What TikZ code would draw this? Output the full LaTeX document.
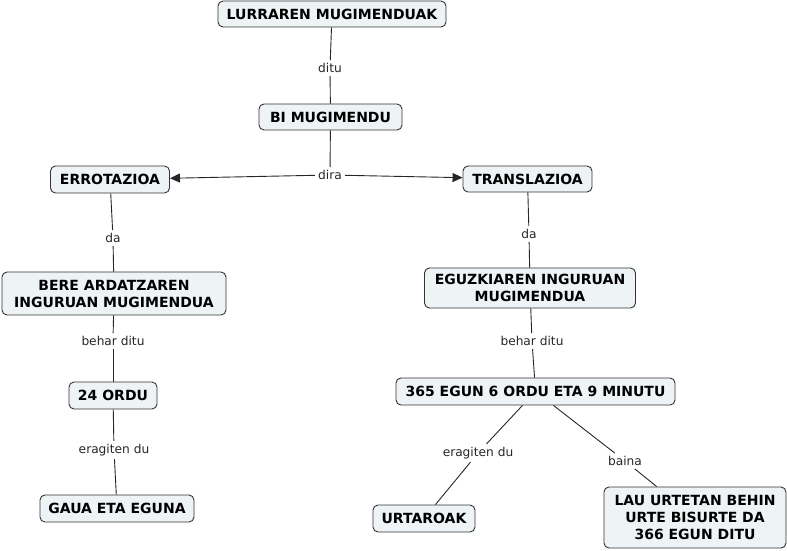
\documentclass[tikz,border=0pt]{standalone}
\usepackage{fontspec}
\setmainfont{DejaVu Sans}
\usetikzlibrary{arrows.meta}
\definecolor{boxfill}{HTML}{EEF3F5}
\definecolor{boxline}{HTML}{333333}
\tikzset{
  concept/.style={draw=boxline, fill=boxfill, rounded corners=5pt, line width=0.9pt,
    font=\bfseries\fontsize{14}{17}\selectfont, align=center, inner sep=0pt},
  lbl/.style={font=\fontsize{12.2}{14}\selectfont, inner sep=3pt, text=black!85},
  link/.style={draw=black!85, line width=0.9pt},
  arr/.style={link, -{Triangle[length=10pt,width=9pt]}}
}
\begin{document}
\begin{tikzpicture}[x=1pt,y=-1pt]
\useasboundingbox (0,0) rectangle (787,551);
\node[concept, minimum width=228pt, minimum height=26pt] (lur) at (332,14) {LURRAREN MUGIMENDUAK};
\node[concept, minimum width=143pt, minimum height=26pt] (bi) at (330.5,117) {BI MUGIMENDU};
\node[concept, minimum width=119pt, minimum height=27pt] (err) at (110,179.5) {ERROTAZIOA};
\node[concept, minimum width=129pt, minimum height=26pt] (tra) at (527.5,179) {TRANSLAZIOA};
\node[concept, minimum width=224pt, minimum height=43pt] (bere) at (114,293.5) {BERE ARDATZAREN\\INGURUAN MUGIMENDUA};
\node[concept, minimum width=211pt, minimum height=40pt] (eguz) at (530,288) {EGUZKIAREN INGURUAN\\MUGIMENDUA};
\node[concept, minimum width=88pt, minimum height=27pt] (ord) at (113,395.5) {24 ORDU};
\node[concept, minimum width=279pt, minimum height=27pt] (egun) at (535.5,391.5) {365 EGUN 6 ORDU ETA 9 MINUTU};
\node[concept, minimum width=154pt, minimum height=27pt] (gaua) at (117,508.5) {GAUA ETA EGUNA};
\node[concept, minimum width=102pt, minimum height=27pt] (urt) at (424,518.5) {URTAROAK};
\node[concept, minimum width=182pt, minimum height=61pt] (lau) at (695,517.5) {LAU URTETAN BEHIN\\URTE BISURTE DA\\366 EGUN DITU};

\node[lbl] (l1) at (330,68) {ditu};
\node[lbl] (l2) at (330,175) {dira};
\node[lbl] (l3) at (113,238) {da};
\node[lbl] (l4) at (529,234) {da};
\node[lbl] (l5) at (113,341) {behar ditu};
\node[lbl] (l6) at (532,341) {behar ditu};
\node[lbl] (l7) at (114,450) {eragiten du};
\node[lbl] (l8) at (478,453) {eragiten du};
\node[lbl] (l9) at (625,461) {baina};

\draw[link] (lur) -- (l1);
\draw[link] (l1) -- (bi);
\draw[link] (bi) -- (l2);
\draw[arr] (l2) -- (err);
\draw[arr] (l2) -- (tra);
\draw[link] (err) -- (l3);
\draw[link] (l3) -- (bere);
\draw[link] (tra) -- (l4);
\draw[link] (l4) -- (eguz);
\draw[link] (bere) -- (l5);
\draw[link] (l5) -- (ord);
\draw[link] (eguz) -- (l6);
\draw[link] (l6) -- (egun);
\draw[link] (ord) -- (l7);
\draw[link] (l7) -- (gaua);
\draw[link] (egun) -- (l8);
\draw[link] (l8) -- (urt);
\draw[link] (egun) -- (l9);
\draw[link] (l9) -- (lau);
\end{tikzpicture}
\end{document}
